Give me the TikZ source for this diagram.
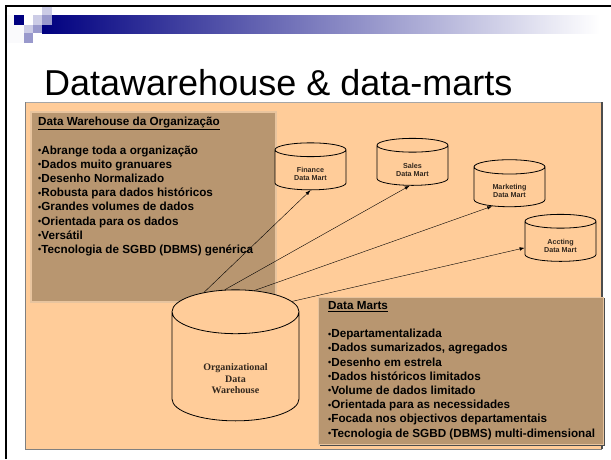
\documentclass[tikz,border=0pt]{standalone}
\usepackage{fontspec}
\setmainfont{Liberation Sans}
\newfontfamily\dwserif{Liberation Serif}
\usepackage{xcolor}
\usetikzlibrary{shapes.geometric}
\usetikzlibrary{arrows.meta}
\definecolor{slide peach}{RGB}{255,204,153}
\definecolor{box tan}{RGB}{184,150,112}
\definecolor{box rim}{RGB}{232,196,158}
\definecolor{bar navy}{RGB}{0,0,128}
\definecolor{sq light}{RGB}{204,204,230}
\definecolor{sq mid}{RGB}{153,153,204}
\definecolor{mart text}{RGB}{51,40,30}
\tikzstyle{mart} = [cylinder, shape border rotate=90, draw, fill=slide peach, thick,
    minimum width=71pt, minimum height=47pt, aspect=0.42, inner sep=0pt,
    text=mart text, font=\fontsize{7.2}{8}\selectfont\bfseries]
\tikzset{infobox/.style={fill=box tan},
    boxtext/.style={anchor=north west, align=left, inner sep=0pt,
      font=\fontsize{11.7}{14.2}\selectfont\bfseries},
    feed/.style={draw, thin, -{Latex[length=5pt,width=3.5pt]}}}
\newcommand{\bdot}{{\fontsize{9}{9}\selectfont\raisebox{0.5pt}{•}}}
% label set lower than the middle of a cylinder
\newcommand{\lowlabel}[2]{\raisebox{-#1}[0pt][0pt]{\begin{tabular}{@{}c@{}}#2\end{tabular}}}

\begin{document}
\begin{tikzpicture}[x=1pt,y=-1pt]
    \useasboundingbox (0,0) rectangle (611,459);
    \fill[white] (0,0) rectangle (611,459);
    % slide frame and header
    \draw[line width=2pt] (6,459) -- (6,6) -- (611,6);
    \shade[left color=bar navy, right color=white] (42,15) rectangle (600,33);
    \fill[white!90!sq light] (7,15) rectangle (24,43);
    \fill[bar navy] (14,15) rectangle (24,25);
    \fill[sq light] (42,7) rectangle (52,15);
    \fill[sq light] (33,15) rectangle (42,25);
    \fill[sq mid] (42,15) rectangle (52,25);
    \fill[sq light] (24,25) rectangle (33,33);
    \fill[sq mid] (33,25) rectangle (42,33);
    \fill[sq mid] (24,33) rectangle (33,43);
    \node[anchor=base west, inner sep=0pt, font=\fontsize{36}{42}\selectfont] (title)
        at (44,95) {Datawarehouse \& data-marts};
    % background area
    \fill[slide peach] (25,102) rectangle (602,449);
    \draw[gray!70, line width=0.6pt] (25,102) -- (602,102);
    \draw[gray!60!black, line width=1.5pt] (602,102) -- (602,449);
    \draw[gray, line width=0.5pt] (25,102) -- (25,449) -- (602,449);
    % the two text boxes
    \draw[infobox, draw=box rim, line width=1.2pt] (31,112) rectangle (276,302);
    \draw[gray!60!black, line width=1.5pt] (320,445) -- (604,445) -- (604,298);
    \draw[infobox, draw=box rim, line width=0.8pt] (318,297) rectangle (603,444);
    \node[boxtext] (dwtext) at (38,117) {\underline{Data Warehouse da Organização}\\[14.2pt]
        \bdot Abrange toda a organização\\
        \bdot Dados muito granuares\\
        \bdot Desenho Normalizado\\
        \bdot Robusta para dados históricos\\
        \bdot Grandes volumes de dados\\
        \bdot Orientada para os dados\\
        \bdot Versátil\\
        \bdot Tecnologia de SGBD (DBMS) genérica};
    \node[boxtext] (dmtext) at (328,301) {\underline{Data Marts}\\[14.2pt]
        \bdot Departamentalizada\\
        \bdot Dados sumarizados, agregados\\
        \bdot Desenho em estrela\\
        \bdot Dados históricos limitados\\
        \bdot Volume de dados limitado\\
        \bdot Orientada para as necessidades\\
        \bdot Focada nos objectivos departamentais\\
        \bdot Tecnologia de SGBD (DBMS) multi-dimensional};
    % data marts
    \node[mart] (finance) at (310.5,170) {\lowlabel{7pt}{Finance\\Data Mart}};
    \node[mart] (sales) at (412.5,165.5) {\lowlabel{7pt}{Sales\\Data Mart}};
    \node[mart] (marketing) at (509.5,187) {\lowlabel{7pt}{Marketing\\Data Mart}};
    \node[mart] (accting) at (560.5,241.5) {\lowlabel{7pt}{Accting\\Data Mart}};
    % warehouse
    \node[cylinder, shape border rotate=90, draw, fill=slide peach, thick,
        minimum width=127pt, minimum height=131pt, aspect=0.68, inner sep=0pt,
        text=mart text, font=\dwserif\fontsize{10}{11.5}\selectfont\bfseries]
        (dw) at (235.5,366.5) {\lowlabel{16pt}{Organizational\\Data\\Warehouse}};
    % feeds
    \draw[feed] (dw.113) -- (finance.south);
    \draw[feed] (dw.98) -- (sales.262);
    \draw[feed] (dw.76) -- (marketing.228);
    \draw[feed] (dw.49) -- (accting.190);
\end{tikzpicture}
\end{document}
